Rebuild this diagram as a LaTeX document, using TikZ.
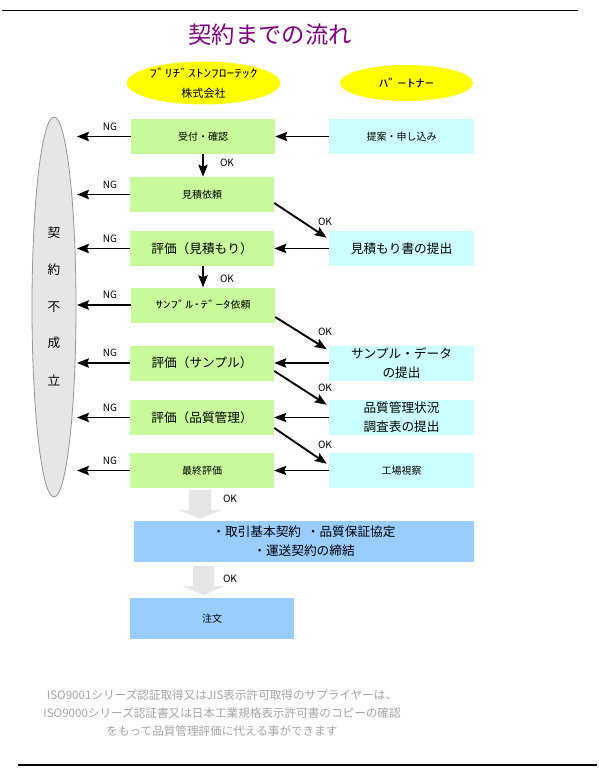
\documentclass[tikz,border=0pt]{standalone}
\usepackage{fontspec}
\setmainfont{Noto Sans CJK JP}
\usetikzlibrary{arrows.meta,calc,shapes.geometric}
\definecolor{gfill}{RGB}{200,250,155}
\definecolor{cfill}{RGB}{204,255,255}
\definecolor{bfill}{RGB}{153,204,255}
\definecolor{yfill}{RGB}{255,255,0}
\definecolor{efill}{RGB}{230,230,230}
\definecolor{eline}{RGB}{150,150,150}
\definecolor{ttl}{RGB}{128,0,128}
\definecolor{foot}{RGB}{165,165,165}
\newcommand\fsS{\fontsize{7.5}{9}\selectfont}
\newcommand\fsL{\fontsize{9.5}{14.5}\selectfont}
\tikzset{
  gbox/.style={fill=gfill,draw=none,inner sep=0pt,minimum width=144*0.75pt,minimum height=35*0.75pt,align=center},
  cbox/.style={fill=cfill,draw=none,inner sep=0pt,minimum width=145*0.75pt,minimum height=35*0.75pt,align=center},
  bbox/.style={fill=bfill,draw=none,inner sep=0pt,minimum height=41*0.75pt,align=center},
  yell/.style={ellipse,fill=yfill,draw=none,inner sep=0pt,minimum width=133*0.75pt,minimum height=36*0.75pt,align=center},
  arr/.style={line width=1.4pt,-{Stealth[length=9pt,width=7pt,inset=1.5pt]}},
  lbl/.style={font=\fsS,inner sep=0pt},
}
\begin{document}
\begin{tikzpicture}[x=0.75pt,y=-0.75pt]
\useasboundingbox (0,0) rectangle (599,768);
% rules
\draw[line width=0.9pt] (2,10.5) -- (578,10.5);
\draw[line width=0.9pt] (18,765) -- (597,765);
% title
\node[text=ttl,font=\fontsize{17.5}{20}\selectfont,inner sep=0pt] (title) at (270,35) {契約までの流れ};
% header ellipses
\node[yell,font=\fontsize{8.3}{15}\selectfont] (co) at (203.5,83) {\scalebox{1.4}[1]{ﾌﾞﾘﾁﾞｽﾄﾝﾌﾛｰﾃｯｸ}\\株式会社};
\node[yell,font=\fontsize{8.3}{15}\selectfont] (pa) at (406.5,83) {\scalebox{1.65}[1]{ﾊﾟｰﾄﾅｰ}};
% left ellipse
\node[ellipse,fill=efill,draw=eline,line width=0.6pt,inner sep=0pt,minimum width=44*0.75pt,minimum height=380*0.75pt] (ng) at (54,307) {};
\foreach \c/\yy in {契/233,約/270,不/307,成/343,立/380}
  \node[font=\fontsize{9.5}{11}\selectfont,inner sep=0pt] at (54,\yy) {\c};
\coordinate (ngx) at (77,0);
% green boxes
\node[gbox,font=\fsS] (g1) at (203,136.5) {受付・確認};
\node[gbox,font=\fsS] (g2) at (202,194.5) {見積依頼};
\node[gbox,font=\fsL] (g3) at (202,248.5) {評価（見積もり）};
\node[gbox,font=\fsS] (g4) at (203,305) {\scalebox{1.5}[1]{ｻﾝﾌﾟﾙ･ﾃﾞｰﾀ}依頼};
\node[gbox,font=\fsL] (g5) at (202,363) {評価（サンプル）};
\node[gbox,font=\fsL] (g6) at (202,417.5) {評価（品質管理）};
\node[gbox,font=\fsS] (g7) at (202,470.5) {最終評価};
% cyan boxes
\node[cbox,font=\fsS] (c1) at (401.5,136.5) {提案・申し込み};
\node[cbox,font=\fsL] (c2) at (401.5,248.5) {見積もり書の提出};
\node[cbox,font=\fsL] (c3) at (401.5,363) {サンプル・データ\\の提出};
\node[cbox,font=\fsL] (c4) at (401.5,417.5) {品質管理状況\\調査表の提出};
\node[cbox,font=\fsS] (c5) at (401.5,470.5) {工場視察};
% blue boxes
\node[bbox,font=\fsL,minimum width=340*0.75pt] (b1) at (304,541.5) {・取引基本契約\ \ ・品質保証協定\\・運送契約の締結};
\node[bbox,font=\fsS,minimum width=164*0.75pt] (b2) at (212,618.5) {注文};
% NG arrows
\foreach \g in {g1,g2,g3,g4,g5,g6,g7}{
  \draw[arr] (\g.west) -- (\g.west -| ngx);
  \node[lbl] (ng-\g) at ($(\g.west -| 110,0)+(0,-10)$) {NG};
}
% partner to company
\foreach \c/\g in {c1/g1,c2/g3,c3/g5,c4/g6,c5/g7}
  \draw[arr] (\c.west) -- (\g.east);
% down arrows
\draw[arr] (g1.south -| 203,0) -- (g2.north -| 203,0);
\node[lbl] (ok1) at (227,163) {OK};
\draw[arr] (g3.south -| 203,0) -- (g4.north -| 203,0);
\node[lbl] (ok2) at (227,279) {OK};
% diagonals
\draw[arr] ($(g2.east)+(0,8.5)$) -- ($(c2.north west)+(-2,7)$);
\node[lbl] (ok3) at (325,222) {OK};
\draw[arr] ($(g4.east)+(0,12)$) -- ($(c3.north west)+(-2,4)$);
\node[lbl] (ok4) at (325,332) {OK};
\draw[arr] ($(g5.east)+(0,8)$) -- ($(c4.north west)+(-2,5)$);
\node[lbl] (ok5) at (325,388) {OK};
\draw[arr] ($(g6.east)+(0,10.5)$) -- ($(c5.north west)+(-2,11)$);
\node[lbl] (ok6) at (325,445) {OK};
% block arrows
\fill[efill] (189,490) -- (211,490) -- (211,510) -- (222,510) -- (200,519) -- (178,510) -- (189,510) -- cycle;
\node[lbl] (ok7) at (230,499) {OK};
\fill[efill] (193,566) -- (214,566) -- (214,586) -- (225,586) -- (203.5,595) -- (182,586) -- (193,586) -- cycle;
\node[lbl] (ok8) at (230,579) {OK};
% footer
\node[text=foot,font=\fontsize{8.7}{13.5}\selectfont,align=center,inner sep=0pt] (footer) at (222,713)
  {ISO9001シリーズ認証取得又はJIS表示許可取得のサプライヤーは、\\ISO9000シリーズ認証書又は日本工業規格表示許可書のコピーの確認\\をもって品質管理評価に代える事ができます};
\end{tikzpicture}
\end{document}
